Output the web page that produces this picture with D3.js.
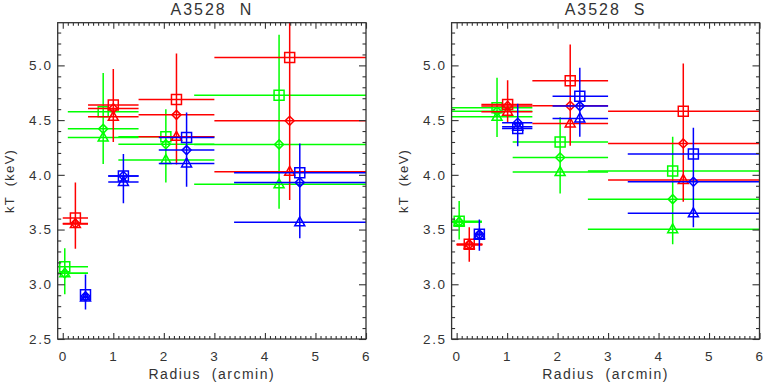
<!DOCTYPE html>
<html>
<head>
<meta charset="utf-8">
<script src="https://cdn.jsdelivr.net/npm/d3@7"></script>
<style>
  body { margin: 0; background: #fff; }
  svg { display: block; }
  text { font-family: "Liberation Sans", Arial, sans-serif; fill: #333; }
</style>
</head>
<body>
<svg id="chart" width="764" height="383"></svg>
<script>
// each row: radius, radius lo, radius hi, kT square, kT diamond, kT triangle, kT lo, kT hi
const nGreen = [
  [0.04, -0.1, 0.5, 3.16, 3.10, 3.10, 2.91, 3.33],
  [0.80, 0.1, 1.5, 4.576, 4.42, 4.34, 4.10, 4.93],
  [2.04, 1.1, 3.0, 4.347, 4.28, 4.135, 3.93, 4.60],
  [4.28, 2.6, 6.0, 4.726, 4.278, 3.913, 3.69, 5.28]
];
const nRed = [
  [0.25, 0.0, 0.5, 3.605, 3.556, 3.55, 3.325, 3.93],
  [1.00, 0.5, 1.5, 4.637, 4.607, 4.53, 4.30, 4.966],
  [2.25, 1.5, 3.0, 4.689, 4.548, 4.347, 4.095, 5.109],
  [4.49, 3.0, 6.0, 5.073, 4.494, 4.028, 3.77, 5.6]
];
const nBlue = [
  [0.45, 0.4, 0.5, 2.905, 2.89, 2.88, 2.77, 3.09],
  [1.20, 0.9, 1.5, 3.99, 3.99, 3.935, 3.74, 4.19],
  [2.45, 1.9, 3.0, 4.342, 4.226, 4.104, 3.89, 4.57],
  [4.69, 3.39, 6.0, 4.019, 3.931, 3.566, 3.42, 4.287]
];
const sGreen = [
  [0.05, -0.1, 0.5, 3.575, 3.57, 3.57, 3.41, 3.76],
  [0.80, -0.1, 1.5, 4.612, 4.58, 4.53, 4.345, 4.886],
  [2.05, 1.11, 3.0, 4.30, 4.159, 4.025, 3.83, 4.525],
  [4.28, 2.6, 6.0, 4.034, 3.778, 3.502, 3.365, 4.348]
];
const sRed = [
  [0.25, 0.0, 0.51, 3.365, 3.365, 3.36, 3.206, 3.52],
  [1.01, 0.49, 1.5, 4.643, 4.63, 4.576, 4.48, 4.865],
  [2.25, 1.5, 3.0, 4.859, 4.631, 4.47, 4.265, 5.19],
  [4.49, 3.0, 6.0, 4.582, 4.287, 3.952, 3.754, 5.018]
];
const sBlue = [
  [0.45, 0.4, 0.5, 3.456, 3.456, 3.45, 3.306, 3.593],
  [1.21, 0.9, 1.5, 4.424, 4.475, 4.44, 4.26, 4.65],
  [2.44, 1.9, 3.0, 4.719, 4.628, 4.515, 4.348, 4.978],
  [4.69, 3.39, 6.0, 4.19, 3.937, 3.648, 3.52, 4.43]
];

const titles = ["A3528  N", "A3528  S"];
const xTicks = [0, 1, 2, 3, 4, 5, 6];
const yTicks = [2.5, 3.0, 3.5, 4.0, 4.5, 5.0];
const xDomain = [-0.1, 6];
const yDomain = [2.5, 5.39];

const colors = ["#00ff00", "#ff0000", "#0000ff"];
const panels = [
  { title: titles[0], left: 57.7, right: 366, series: [nGreen, nRed, nBlue] },
  { title: titles[1], left: 451.6, right: 759.5, series: [sGreen, sRed, sBlue] }
];
const plotTop = 22.7, plotBottom = 339;

const svg = d3.select("#chart");

// marker shapes centred on the point
const markers = [
  (x, y) => `M${x - 5},${y - 5}h10v10h-10Z`,
  (x, y) => `M${x},${y - 4.5}L${x + 4.5},${y}L${x},${y + 4.5}L${x - 4.5},${y}Z`,
  (x, y) => `M${x},${y - 5.5}L${x + 5},${y + 3.5}L${x - 5},${y + 3.5}Z`
];

const minorX = d3.range(1, 60).map((i) => i / 10).filter((v) => Math.abs(v - Math.round(v)) > 1e-6);
const minorY = d3.range(26, 54).map((i) => i / 10).filter((v) => Math.abs(v * 2 - Math.round(v * 2)) > 1e-6);

panels.forEach((p, pi) => {
  const x = d3.scaleLinear().domain(xDomain).range([p.left, p.right]);
  const y = d3.scaleLinear().domain(yDomain).range([plotBottom, plotTop]);
  const g = svg.append("g");

  // clip data to the plot box
  const clipId = "clip" + pi;
  svg.append("clipPath").attr("id", clipId)
    .append("rect")
    .attr("x", p.left).attr("y", plotTop)
    .attr("width", p.right - p.left).attr("height", plotBottom - plotTop);

  const data = g.append("g").attr("clip-path", `url(#${clipId})`);

  p.series.forEach((rows, si) => {
    const c = colors[si];
    const sg = data.append("g").attr("stroke", c).attr("fill", "none");
    rows.forEach((r) => {
      [r[3], r[4], r[5]].forEach((v) => {
        sg.append("line")
          .attr("x1", x(r[1])).attr("x2", x(r[2]))
          .attr("y1", y(v)).attr("y2", y(v))
          .attr("stroke-width", 1.5);
      });
      sg.append("line")
        .attr("x1", x(r[0])).attr("x2", x(r[0]))
        .attr("y1", y(r[6])).attr("y2", y(r[7]))
        .attr("stroke-width", 1.5);
      [r[3], r[4], r[5]].forEach((v, mi) => {
        sg.append("path")
          .attr("d", markers[mi](x(r[0]), y(v)))
          .attr("stroke-width", 1.5);
      });
    });
  });

  // axes, ticks pointing inward on all four sides
  const axes = g.append("g").attr("class", "axes");
  const addAxis = (axis, tf, labels) => {
    const a = axes.append("g").attr("transform", tf).call(axis);
    a.select(".domain").remove();
    a.selectAll("line").attr("stroke", "#333").attr("stroke-width", 1.1);
    if (!labels) a.selectAll("text").remove();
    else a.selectAll("text")
      .attr("fill", "#333")
      .style("font-size", "13.5px")
      .style("letter-spacing", "1.6px")
      .style("font-family", '"Liberation Sans", Arial, sans-serif');
    return a;
  };
  addAxis(d3.axisBottom(x).tickValues(xTicks).tickSize(-6).tickPadding(12).tickFormat(d3.format("d")),
    `translate(0,${plotBottom})`, true);
  addAxis(d3.axisBottom(x).tickValues(minorX).tickSize(-3), `translate(0,${plotBottom})`, false);
  addAxis(d3.axisTop(x).tickValues(xTicks).tickSize(-6), `translate(0,${plotTop})`, false);
  addAxis(d3.axisTop(x).tickValues(minorX).tickSize(-3), `translate(0,${plotTop})`, false);
  addAxis(d3.axisLeft(y).tickValues(yTicks).tickSize(-7).tickPadding(5).tickFormat(d3.format(".1f")),
    `translate(${p.left},0)`, true);
  addAxis(d3.axisLeft(y).tickValues(minorY).tickSize(-3.5), `translate(${p.left},0)`, false);
  addAxis(d3.axisRight(y).tickValues(yTicks).tickSize(-7), `translate(${p.right},0)`, false);
  addAxis(d3.axisRight(y).tickValues(minorY).tickSize(-3.5), `translate(${p.right},0)`, false);

  axes.append("rect")
    .attr("x", p.left).attr("y", plotTop)
    .attr("width", p.right - p.left).attr("height", plotBottom - plotTop)
    .attr("fill", "none").attr("stroke", "#333").attr("stroke-width", 1.3);

  const cx = (p.left + p.right) / 2;
  g.append("text")
    .attr("x", cx).attr("y", 15)
    .attr("text-anchor", "middle")
    .style("font-size", "16px").style("letter-spacing", "2px").style("white-space", "pre")
    .text(p.title);

  g.append("text")
    .attr("x", cx).attr("y", 379)
    .attr("text-anchor", "middle")
    .style("font-size", "14px").style("letter-spacing", "1.5px").style("white-space", "pre")
    .text("Radius  (arcmin)");

  g.append("text")
    .attr("transform", `translate(${p.left - 44},${(plotTop + plotBottom) / 2}) rotate(-90)`)
    .attr("text-anchor", "middle")
    .style("font-size", "13px").style("letter-spacing", "1.3px").style("white-space", "pre")
    .text("kT  (keV)");
});
</script>
</body>
</html>
